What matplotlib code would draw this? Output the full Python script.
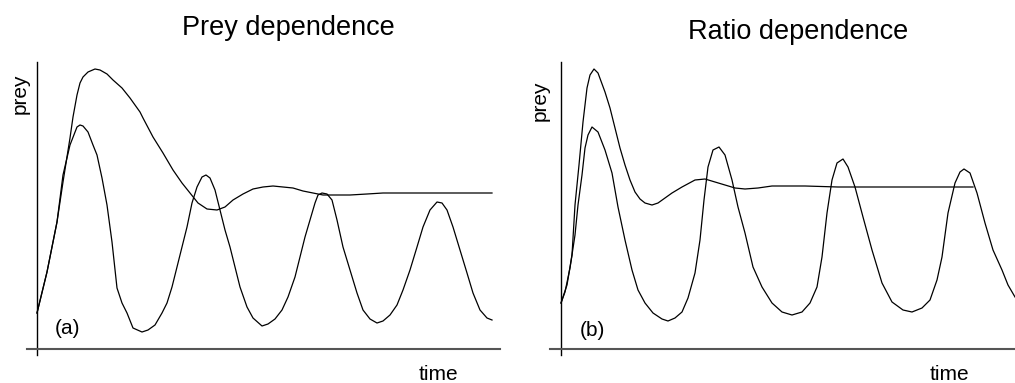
import matplotlib
matplotlib.use("Agg")
import matplotlib.pyplot as plt

plt.rcParams['font.family'] = ['Liberation Sans', 'DejaVu Sans']

# ---- panel (a): prey-dependent functional response ----
a_stable_t = [0, 10, 20, 26, 33, 36, 40, 43, 46, 51, 58, 63, 70, 76, 85, 93, 103, 106,
              116, 126, 136, 145, 153, 161, 170, 180, 188, 196, 206, 216, 226, 236,
              246, 256, 266, 276, 286, 296, 313, 330, 346, 396, 413, 455]
a_stable_p = [36, 77, 127, 167, 211, 232, 254, 266, 272, 277, 280, 279, 275, 269, 261, 251, 237, 231,
              212, 196, 179, 166, 156, 146, 140, 139, 142, 149, 155, 160, 162, 163,
              162, 161, 158, 156, 154, 154, 154, 155, 156, 156, 156, 156]

a_cycle_t = [0, 10, 20, 26, 33, 40, 43, 46, 51, 56, 60, 65, 70, 75, 80, 85, 90, 96, 105, 111,
             118, 125, 130, 135, 140, 145, 150, 155, 160, 165, 169, 173, 178, 183, 188,
             193, 198, 203, 210, 216, 225, 231, 238, 245, 251, 258, 263, 268, 273, 278,
             281, 285, 290, 295, 300, 306, 313, 320, 326, 333, 340, 346, 353, 360, 366,
             373, 380, 386, 393, 400, 405, 410, 416, 423, 430, 436, 443, 450, 455]
a_cycle_p = [36, 77, 127, 174, 204, 222, 224, 223, 217, 204, 194, 171, 144, 107, 61, 46, 36, 21, 17, 19,
             24, 36, 46, 62, 82, 102, 122, 146, 162, 172, 174, 171, 159, 139, 119,
             102, 82, 62, 42, 31, 23, 25, 30, 39, 52, 72, 92, 112, 129, 146,
             154, 156, 155, 149, 129, 102, 79, 56, 39, 30, 26, 28, 34, 44, 59,
             79, 102, 122, 139, 147, 146, 139, 122, 99, 76, 56, 39, 31, 29]

# ---- panel (b): ratio-dependent functional response ----
b_stable_t = [0, 6, 11, 14, 18, 22, 26, 29, 33, 37, 44, 49, 54, 59, 64, 69, 74, 79, 84, 91,
              97, 104, 111, 121, 134, 144, 154, 164, 174, 184, 197, 211, 244, 277, 344, 412]
b_stable_p = [46, 64, 94, 144, 184, 227, 261, 274, 280, 276, 257, 241, 221, 201, 184, 169, 157, 150, 146, 144,
              146, 151, 156, 162, 169, 170, 167, 164, 161, 160, 161, 163, 163, 162, 162, 162]

b_cycle_t = [0, 4, 9, 14, 17, 21, 24, 27, 31, 37, 44, 51, 57, 64, 71, 77, 84, 92, 101, 107,
             114, 121, 127, 134, 139, 143, 147, 152, 158, 164, 171, 177, 184, 192, 201, 211,
             221, 231, 241, 249, 256, 261, 266, 271, 276, 282, 287, 294, 302, 311, 321, 331,
             342, 351, 361, 369, 376, 381, 387, 394, 399, 403, 409, 416, 424, 432, 441, 447, 454]
b_cycle_p = [46, 57, 81, 114, 144, 174, 201, 214, 222, 217, 199, 176, 142, 109, 79, 59, 46, 36, 30, 28,
             31, 37, 51, 76, 109, 149, 182, 199, 202, 194, 169, 142, 116, 82, 62, 46,
             37, 34, 37, 46, 62, 92, 136, 169, 186, 190, 182, 162, 132, 99, 66, 47,
             39, 37, 41, 49, 69, 92, 136, 166, 177, 180, 176, 156, 126, 99, 79, 64, 52]

W, H = 1015, 383
fig = plt.figure(figsize=(W / 100, H / 100), dpi=100)


def make_axes(left_px, right_px, top_px, bottom_px, origin_x_px, origin_y_px):
    ax = fig.add_axes([left_px / W, 1 - bottom_px / H,
                       (right_px - left_px) / W, (bottom_px - top_px) / H])
    ax.set_xlim(left_px - origin_x_px, right_px - origin_x_px)
    ax.set_ylim(origin_y_px - bottom_px, origin_y_px - top_px)
    ax.patch.set_alpha(0)
    for side in ('top', 'right'):
        ax.spines[side].set_visible(False)
    ax.spines['left'].set_position(('data', 0))
    ax.spines['bottom'].set_position(('data', 0))
    ax.spines['left'].set_color('black')
    ax.spines['left'].set_linewidth(1.0)
    ax.spines['bottom'].set_color('#555555')
    ax.spines['bottom'].set_linewidth(1.5)
    ax.set_xticks([])
    ax.set_yticks([])
    return ax


ax_a = make_axes(27, 500, 62, 355, 37, 349)
ax_b = make_axes(550, 1015, 62, 355, 561, 349)

line_kw = dict(color='black', lw=0.9, solid_joinstyle='round', clip_on=False)
ax_a.plot(a_stable_t, a_stable_p, **line_kw)
ax_a.plot(a_cycle_t, a_cycle_p, **line_kw)
ax_b.plot(b_stable_t, b_stable_p, **line_kw)
ax_b.plot(b_cycle_t, b_cycle_p, **line_kw)

# titles and axis words
fig.text(288 / W, 1 - 35 / H, 'Prey dependence', ha='center', va='baseline', fontsize=19.5)
fig.text(798 / W, 1 - 39 / H, 'Ratio dependence', ha='center', va='baseline', fontsize=19.5)

fig.text(20 / W, 1 - 94 / H, 'prey', rotation=90, ha='center', va='center', fontsize=15)
fig.text(540 / W, 1 - 101 / H, 'prey', rotation=90, ha='center', va='center', fontsize=15)

fig.text(438 / W, 1 - 375 / H, 'time', ha='center', va='center', fontsize=15)
fig.text(949 / W, 1 - 374 / H, 'time', ha='center', va='center', fontsize=15)

fig.text(68 / W, 1 - 328 / H, '(a)', ha='center', va='center', fontsize=15)
fig.text(592 / W, 1 - 331 / H, '(b)', ha='center', va='center', fontsize=15)

fig.savefig('out.png', dpi=100, facecolor='white')
